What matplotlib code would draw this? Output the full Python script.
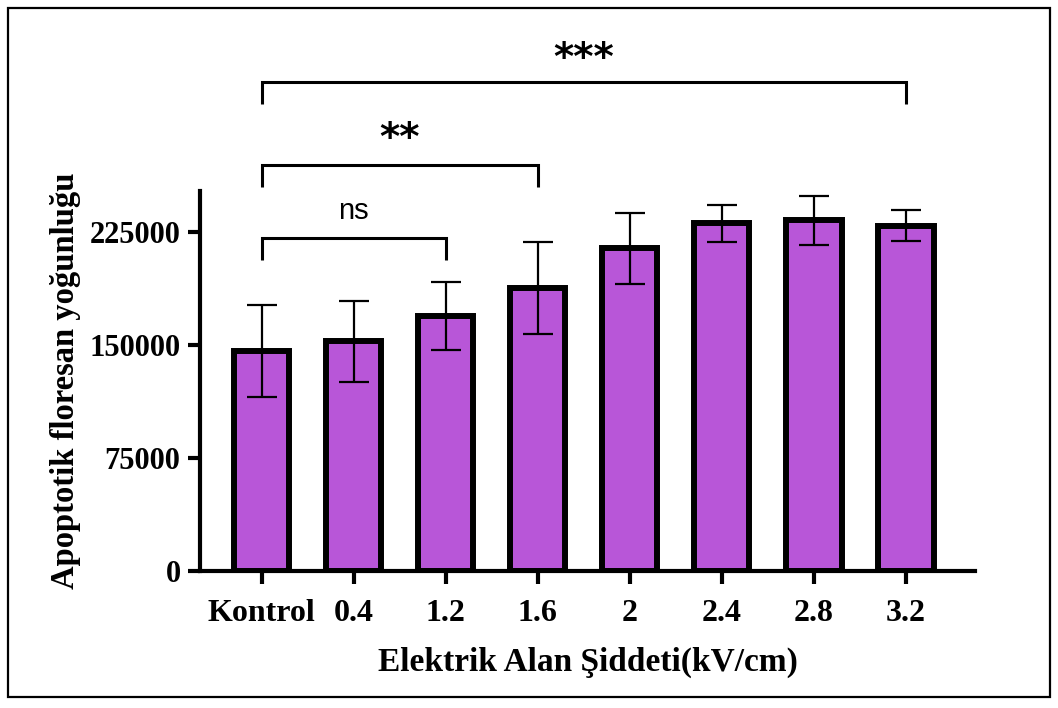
import matplotlib
matplotlib.use("Agg")
import matplotlib.pyplot as plt
from matplotlib.patches import Rectangle
import numpy as np

groups = ["Kontrol", "0.4", "1.2", "1.6", "2", "2.4", "2.8", "3.2"]
means = [146300, 152500, 169500, 188000, 214500, 231000, 233000, 229500]
errors = [30600, 27000, 22500, 30500, 23500, 12500, 16500, 10200]
y_ticks = [0, 75000, 150000, 225000]

# significance brackets: (start group, end group, bracket y, leg bottom y, label, text y)
brackets = [
    (0, 2, 221000, 206800, "ns", 239000),
    (0, 3, 270000, 255300, "**", 287000),
    (0, 7, 325100, 310500, "***", 340500),
]

W, H = 1058, 708
fig = plt.figure(figsize=(W / 100, H / 100), dpi=100)
ax = fig.add_axes([200 / W, 1 - 571 / H, 775 / W, (571 - 191) / H])

x = np.arange(len(groups))
ax.bar(x, means, width=0.6, color="#B856D8", edgecolor="black", linewidth=4.3, zorder=2)
ax.errorbar(x, means, yerr=errors, fmt="none", ecolor="black", elinewidth=1.6,
            capsize=11, capthick=1.6, zorder=3)

ax.set_xlim(-0.67, 7.75)
ax.set_ylim(0, 252500)

serif = {"family": "Liberation Serif", "weight": "bold"}
ax.set_xticks(x)
ax.set_xticklabels(groups, fontdict=serif, fontsize=23)
ax.set_yticks(y_ticks)
ax.set_yticklabels([str(v) for v in y_ticks], fontdict=serif, fontsize=22)
ax.tick_params(axis="both", width=3, length=9, pad=5)
ax.tick_params(axis="x", pad=11)

for side in ["top", "right"]:
    ax.spines[side].set_visible(False)
for side in ["left", "bottom"]:
    ax.spines[side].set_linewidth(3)

ax.set_xlabel("Elektrik Alan Şiddeti(kV/cm)", fontdict=serif, fontsize=24, labelpad=14)
ax.set_ylabel("Apoptotik floresan yoğunluğu", fontdict=serif, fontsize=23.5, labelpad=6)

for a, b, ytop, ybot, label, ytext in brackets:
    ax.plot([a, a, b, b], [ybot, ytop, ytop, ybot], color="black", linewidth=2.2,
            clip_on=False, solid_capstyle="butt", solid_joinstyle="miter")
    if label == "ns":
        ax.text((a + b) / 2, ytext, label, ha="center", va="center",
                family="Liberation Sans", fontsize=21, clip_on=False)
    else:
        ax.text((a + b) / 2, ytext, label, ha="center", va="center",
                family="DejaVu Sans", weight="bold", fontsize=28, clip_on=False)

# frame round the whole figure
fig.patches.append(Rectangle((8 / W, 11 / H), 1042 / W, 689 / H, transform=fig.transFigure,
                             fill=False, edgecolor="black", linewidth=1.6))

fig.savefig("out.png", dpi=100)
